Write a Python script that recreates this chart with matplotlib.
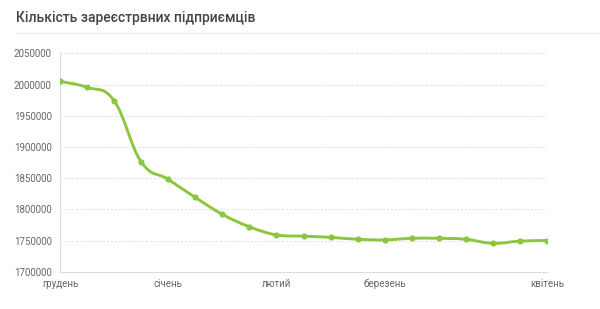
import numpy as np
import matplotlib.pyplot as plt
from matplotlib.path import Path
from matplotlib.patches import PathPatch

# registered entrepreneurs, roughly weekly from December to April
values = [2005000, 1995500, 1974000, 1876000, 1848000, 1819000, 1792000,
          1772000, 1759000, 1757000, 1755000, 1752000, 1751000, 1753500,
          1753500, 1752000, 1745500, 1749000, 1750000]
month_pos = [0, 4, 8, 12, 18]
month_labels = ['грудень', 'січень', 'лютий', 'березень', 'квітень']
y_ticks = [1700000, 1750000, 1800000, 1850000, 1900000, 1950000, 2000000, 2050000]
title = 'Кількість зареєстрвних підприємців'

GREEN = '#8cc63f'
GRID = '#dddddd'
TEXT = '#666666'

plt.rcParams['font.family'] = ['Roboto', 'DejaVu Sans']

fig = plt.figure(figsize=(6, 3.09), dpi=100)
ax = fig.add_axes([0.1, 0.1207, 0.8117, 0.7068])

x = np.arange(len(values))
y = np.array(values, dtype=float)

# smooth line as cubic bezier segments (cardinal spline, tension 0.4)
t = 0.4
verts = [(x[0], y[0])]
codes = [Path.MOVETO]
for i in range(len(x) - 1):
    p0 = (x[i - 1], y[i - 1]) if i > 0 else (x[i], y[i])
    p1 = (x[i], y[i])
    p2 = (x[i + 1], y[i + 1])
    p3 = (x[i + 2], y[i + 2]) if i + 2 < len(x) else p2
    c1 = (p1[0] + (p2[0] - p0[0]) * t / 2, p1[1] + (p2[1] - p0[1]) * t / 2)
    c2 = (p2[0] - (p3[0] - p1[0]) * t / 2, p2[1] - (p3[1] - p1[1]) * t / 2)
    verts += [c1, c2, p2]
    codes += [Path.CURVE4] * 3
ax.add_patch(PathPatch(Path(verts, codes), facecolor='none', edgecolor=GREEN,
                       lw=2.1, capstyle='round', joinstyle='round', zorder=3))
ax.scatter(x, y, s=20, color=GREEN, zorder=4, linewidths=0)

ax.set_xlim(0, len(values) - 1)
ax.set_ylim(1700000, 2050000)
ax.set_yticks(y_ticks)
ax.set_yticklabels([str(v) for v in y_ticks])
ax.set_xticks(month_pos)
ax.set_xticklabels(month_labels)
ax.tick_params(length=0, labelsize=7, colors=TEXT, pad=6)
ax.tick_params(axis='x', pad=5)

ax.grid(axis='y', color=GRID, linestyle=(0, (2, 2)), lw=0.7)
ax.set_axisbelow(True)
for side in ['top', 'right']:
    ax.spines[side].set_visible(False)
for side in ['left', 'bottom']:
    ax.spines[side].set_color(GRID)
    ax.spines[side].set_linewidth(0.8)

fig.text(16 / 600, 1 - 18 / 309, title, fontsize=10, fontweight='medium',
         color='#444444', va='center', ha='left')
fig.add_artist(plt.Line2D([16 / 600, 1], [1 - 33 / 309] * 2, color='#eeeeee', lw=0.8))

fig.savefig('out.png', dpi=100)
